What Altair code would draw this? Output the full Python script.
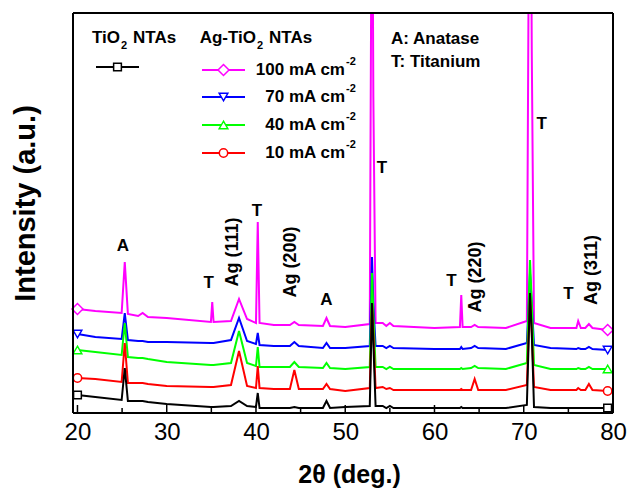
import altair as alt
import pandas as pd

# ---------------- data ----------------
two_theta = [20, 22, 24.95, 25.3, 25.65, 26.8, 27.3, 27.9, 30, 34.95, 35.1, 35.25, 37.2, 38.1, 39.0,
             40.0, 40.2, 40.4, 42, 43.8, 44.3, 44.8, 47.5, 47.9, 48.3, 50, 52.75, 53.0, 53.15, 53.4,
             54.2, 54.6, 55.0, 55.4, 60, 62.85, 63.0, 63.15, 64.1, 64.5, 64.9, 68, 70.35, 70.7, 70.9,
             71.15, 73, 75.9, 76.1, 76.4, 76.9, 77.3, 77.7, 79.4]

i_100 = [104, 102, 100, 151, 99, 97, 100, 96, 95, 91, 111, 91, 92, 114, 94, 90, 191, 90, 88, 88,
         91, 88, 87, 95, 87, 86, 89, 620, 316, 90, 90, 87, 90, 87, 85, 86, 118, 86, 86, 88,
         86, 85, 92, 700, 361, 90, 85, 85, 92, 85, 85, 89, 85, 83]
i_70 = [79, 76, 74, 100, 73, 72, 72, 71, 71, 70, 70, 70, 73, 95, 72, 69, 80, 68, 67, 67,
        71, 67, 65, 70, 65, 65, 67, 156, 110, 67, 67, 65, 67, 65, 64, 64, 66, 64, 65, 67,
        65, 64, 70, 140, 110, 68, 65, 64, 65, 64, 64, 66, 64, 63]
i_40 = [63, 61, 58, 90, 56, 55, 55, 54, 51, 48, 48, 48, 50, 82, 50, 47, 66, 46, 46, 46,
        51, 46, 45, 50, 45, 44, 46, 140, 100, 46, 46, 44, 46, 44, 44, 44, 45, 44, 45, 47,
        45, 44, 50, 153, 110, 48, 44, 44, 45, 44, 44, 46, 44, 44]
i_10 = [35, 34, 31, 70, 30, 30, 30, 29, 27, 26, 26, 26, 28, 62, 27, 25, 47, 25, 24, 24,
        43, 24, 24, 29, 24, 22, 25, 110, 80, 25, 26, 24, 25, 23, 23, 23, 24, 23, 23, 34,
        23, 23, 28, 116, 80, 26, 23, 23, 25, 23, 23, 29, 23, 22]
i_tio2 = [18, 16, 13, 45, 12, 12, 12, 11, 9, 6, 6, 6, 7, 12, 7, 6, 20, 5, 5, 5,
          6, 5, 5, 12, 5, 6, 7, 110, 70, 7, 7, 5, 7, 5, 5, 5, 6, 5, 5, 5,
          5, 5, 8, 120, 80, 6, 5, 5, 5, 5, 5, 5, 5, 5]

series_names = ["100 mA cm-2", "70 mA cm-2", "40 mA cm-2", "10 mA cm-2", "TiO2 NTAs"]
series_vals = [i_100, i_70, i_40, i_10, i_tio2]
colors = ["#FF00FF", "#0000FF", "#00FF00", "#FF0000", "#000000"]
shapes = ["diamond", "triangle-down", "triangle-up", "circle", "square"]
marker_sizes = [120, 75, 75, 70, 60]

x_major = [20, 30, 40, 50, 60, 70, 80]
x_minor = [25, 35, 45, 55, 65, 75]

peak_labels = ["A", "T", "T", "A", "T", "T", "T", "T"]
peak_label_x = [25.1, 34.7, 40.1, 47.9, 54.1, 61.9, 72.0, 75.0]
peak_label_y = [167, 130, 202, 113, 245, 132, 289, 119]
ag_labels = ["Ag (111)", "Ag (200)", "Ag (220)", "Ag (311)"]
ag_label_x = [37.4, 43.9, 64.6, 77.7]
ag_label_y = [161, 151, 136, 143]

FONT = "Liberation Sans"
W, H = 540, 400
LEFT, TOP = 73, 13

rows = []
for name, vals in zip(series_names, series_vals):
    for x, v in zip(two_theta, vals):
        rows.append({"series": name, "x": x, "y": v})
df = pd.DataFrame(rows)

xscale = alt.Scale(domain=[19.5, 80], nice=False, zero=False)
yscale = alt.Scale(domain=[0, 400], nice=False, zero=False)

x_axis = alt.Axis(values=x_major, format="d", labelFont=FONT, labelFontSize=24, labelColor="black",
                  ticks=False, tickSize=0, labelPadding=7, domain=False, grid=False, labelFlush=False,
                  title="2θ (deg.)", titleFont=FONT, titleFontSize=25, titleFontWeight="bold",
                  titleColor="black", titleX=276, titleY=69, titleBaseline="alphabetic")
y_axis = alt.Axis(labels=False, ticks=False, domain=False, grid=False,
                  title="Intensity (a.u.)", titleFont=FONT, titleFontSize=29, titleFontWeight="bold",
                  titleColor="black", titleX=-39, titleY=190, titleBaseline="alphabetic", titleAngle=270)


def X(field):
    return alt.X(field, scale=xscale, axis=x_axis)


def Y(field):
    return alt.Y(field, scale=yscale, axis=y_axis)


layers = []
for name, col in zip(series_names, colors):
    layers.append(alt.Chart(df).transform_filter(alt.datum.series == name).mark_line(
        color=col, strokeWidth=2, clip=True).encode(x=X("x:Q"), y=Y("y:Q")))

# end markers
for name, col, shp, sz in zip(series_names, colors, shapes, marker_sizes):
    layers.append(alt.Chart(df).transform_filter(
        (alt.datum.series == name) & ((alt.datum.x == two_theta[0]) | (alt.datum.x == two_theta[-1]))
    ).mark_point(shape=shp, size=sz, filled=True, fill="white", stroke=col, strokeWidth=1.5,
                 opacity=1).encode(x=X("x:Q"), y=Y("y:Q")))

# inward ticks on the bottom axis
tick_df = pd.DataFrame({"x": x_major + x_minor,
                        "y0": [0] * (len(x_major) + len(x_minor)),
                        "y1": [8] * len(x_major) + [5] * len(x_minor)})
layers.append(alt.Chart(tick_df).mark_rule(color="black", strokeWidth=1.5).encode(
    x=X("x:Q"), y=Y("y0:Q"), y2="y1:Q"))

# peak annotations
pk = pd.DataFrame({"x": peak_label_x, "y": peak_label_y, "t": peak_labels})
layers.append(alt.Chart(pk).mark_text(font=FONT, fontSize=17, fontWeight="bold", color="black").encode(
    x=X("x:Q"), y=Y("y:Q"), text="t:N"))
ag = pd.DataFrame({"x": ag_label_x, "y": ag_label_y, "t": ag_labels})
layers.append(alt.Chart(ag).mark_text(font=FONT, fontSize=18, fontWeight="bold", color="black", angle=270).encode(
    x=X("x:Q"), y=Y("y:Q"), text="t:N"))

one = pd.DataFrame({"a": [0]})

# frame
frame = [(0, W, 0, 0), (0, W, H, H), (0, 0, 0, H), (W, W, 0, H)]
for x0, x1, y0, y1 in frame:
    layers.append(alt.Chart(one).mark_rule(color="black", strokeWidth=2).encode(
        x=alt.value(x0), x2=alt.value(x1), y=alt.value(y0), y2=alt.value(y1)))

# custom legend (pixel layout inside plot area)
leg_y = [70, 97, 125, 153, 67]
leg_x0 = [202, 202, 202, 202, 96]
for col, shp, sz, lx, ly in zip(colors, shapes, marker_sizes, leg_x0, leg_y):
    layers.append(alt.Chart(one).mark_rule(color=col, strokeWidth=2).encode(
        x=alt.value(lx - LEFT), x2=alt.value(lx - LEFT + 43), y=alt.value(ly - TOP)))
    layers.append(alt.Chart(one).mark_point(shape=shp, size=sz, filled=True, fill="white", stroke=col,
                                            strokeWidth=1.5, opacity=1).encode(
        x=alt.value(lx - LEFT + 21.5), y=alt.value(ly - TOP)))

texts = [
    ("TiO", 120, 38, 17, "right"), ("2", 121, 46, 11, "left"), ("NTAs", 133, 38, 17, "left"),
    ("Ag-TiO", 256, 38, 17, "right"), ("2", 257, 46, 11, "left"), ("NTAs", 269, 38, 17, "left"),
    ("100 mA cm", 345, 70, 17, "right"), ("-2", 346, 62, 11, "left"),
    ("70 mA cm", 345, 97, 17, "right"), ("-2", 346, 89, 11, "left"),
    ("40 mA cm", 345, 125, 17, "right"), ("-2", 346, 117, 11, "left"),
    ("10 mA cm", 345, 153, 17, "right"), ("-2", 346, 145, 11, "left"),
    ("A: Anatase", 391, 39, 17, "left"), ("T: Titanium", 391, 62, 17, "left"),
]
for t, px, py, fs, al in texts:
    layers.append(alt.Chart(one).mark_text(text=t, font=FONT, fontSize=fs, fontWeight="bold", color="black",
                                           align=al, baseline="middle").encode(
        x=alt.value(px - LEFT), y=alt.value(py - TOP)))

chart = alt.layer(*layers).properties(
    width=W, height=H,
    autosize=alt.AutoSizeParams(type="none"),
    padding={"left": LEFT, "top": TOP, "right": 629 - LEFT - W, "bottom": 490 - TOP - H},
).configure_view(stroke=None).configure(background="white")

chart.save("out.html", embed_options={"renderer": "svg", "actions": False})
